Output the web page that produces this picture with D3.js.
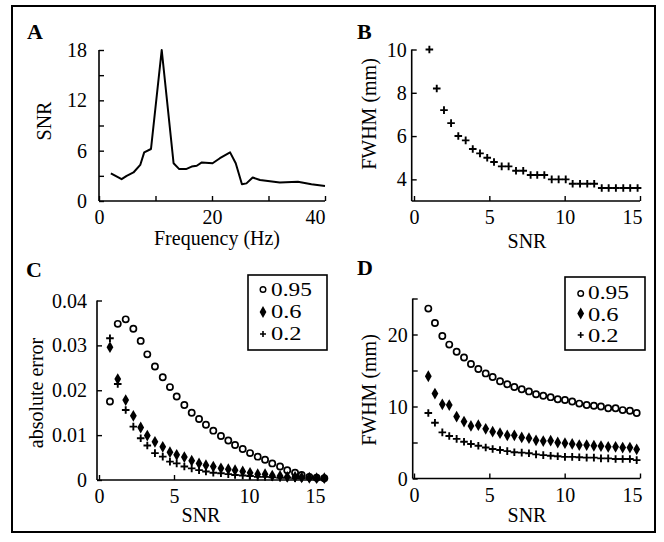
<!DOCTYPE html>
<html>
<head>
<meta charset="utf-8">
<script src="https://cdn.jsdelivr.net/npm/d3@7"></script>
<style>
body { margin: 0; background: #fff; }
text { font-family: "Liberation Serif", "Times New Roman", serif; fill: #000; }
</style>
</head>
<body>
<svg id="fig" width="664" height="542"></svg>
<script>
// A: SNR spectrum
var freqHz  = [2.1, 4.0, 4.9, 6.1, 7.3, 8.0, 9.2, 11.1, 13.2, 14.2, 15.4, 16.4, 17.3, 18.2, 20.1, 21.4, 23.2, 24.2, 25.3, 26.1, 27.2, 28.5, 32.0, 35.2, 37.6, 40.0];
var freqSnr = [3.3, 2.6, 3.0, 3.4, 4.3, 5.8, 6.2, 18.0, 4.5, 3.8, 3.8, 4.1, 4.2, 4.6, 4.5, 5.1, 5.8, 4.5, 2.0, 2.1, 2.8, 2.5, 2.2, 2.3, 2.0, 1.8];

// B: FWHM vs SNR
var snrB  = [1.02, 1.51, 1.99, 2.46, 2.94, 3.43, 3.90, 4.38, 4.86, 5.31, 5.82, 6.28, 6.77, 7.25, 7.74, 8.18, 8.65, 9.14, 9.60, 10.07, 10.53, 11.02, 11.50, 11.96, 12.46, 12.92, 13.40, 13.89, 14.35, 14.84];
var fwhmB = [10.0, 8.2, 7.2, 6.6, 6.0, 5.8, 5.4, 5.2, 5.0, 4.8, 4.6, 4.6, 4.4, 4.4, 4.2, 4.2, 4.2, 4.0, 4.0, 4.0, 3.8, 3.8, 3.8, 3.8, 3.6, 3.6, 3.6, 3.6, 3.6, 3.6];

// C: absolute error vs SNR
var snrC   = [0.73, 1.25, 1.78, 2.29, 2.78, 3.22, 3.73, 4.25, 4.73, 5.18, 5.69, 6.18, 6.67, 7.13, 7.62, 8.13, 8.62, 9.07, 9.58, 10.07, 10.58, 11.07, 11.55, 12.07, 12.55, 13.07, 13.51, 14.02, 14.51, 15.02];
var errC95 = [0.0175, 0.0348, 0.0358, 0.0337, 0.0310, 0.0280, 0.0253, 0.0229, 0.0207, 0.0186, 0.0167, 0.0150, 0.0136, 0.0123, 0.0110, 0.0098, 0.0088, 0.0078, 0.0069, 0.0060, 0.0052, 0.0045, 0.0037, 0.0030, 0.0022, 0.0016, 0.0011, 0.0007, 0.0005, 0.0004];
var errC60 = [0.0296, 0.0225, 0.0178, 0.0143, 0.0117, 0.0099, 0.0085, 0.0074, 0.0062, 0.0056, 0.0051, 0.0043, 0.0037, 0.0033, 0.0030, 0.0026, 0.0024, 0.0022, 0.0019, 0.0016, 0.0013, 0.0013, 0.0010, 0.0009, 0.0007, 0.0007, 0.0006, 0.0005, 0.0004, 0.0004];
var errC20 = [0.0316, 0.0214, 0.0156, 0.0119, 0.0093, 0.0077, 0.0060, 0.0052, 0.0041, 0.0037, 0.0030, 0.0026, 0.0022, 0.0019, 0.0016, 0.0015, 0.0013, 0.0011, 0.0010, 0.0009, 0.0007, 0.0007, 0.0006, 0.0005, 0.0005, 0.0004, 0.0004, 0.0004, 0.0003, 0.0003];

// D: FWHM vs SNR for three correlation levels
var snrD    = [0.95, 1.39, 1.88, 2.34, 2.83, 3.32, 3.78, 4.27, 4.76, 5.22, 5.71, 6.19, 6.66, 7.15, 7.63, 8.10, 8.58, 9.07, 9.54, 10.02, 10.50, 10.97, 11.46, 11.94, 12.41, 12.89, 13.38, 13.85, 14.33, 14.78];
var fwhmD95 = [23.6, 21.6, 19.8, 18.6, 17.6, 16.8, 15.9, 15.2, 14.6, 14.1, 13.5, 13.1, 12.7, 12.4, 12.1, 11.7, 11.5, 11.3, 11.0, 10.9, 10.7, 10.4, 10.2, 10.1, 10.0, 9.75, 9.75, 9.5, 9.4, 9.1];
var fwhmD60 = [14.2, 11.8, 10.3, 10.2, 8.6, 7.9, 7.3, 7.4, 6.9, 6.5, 6.3, 6.0, 6.0, 5.7, 5.6, 5.3, 5.2, 5.25, 5.0, 4.9, 4.8, 4.65, 4.65, 4.55, 4.5, 4.4, 4.4, 4.3, 4.3, 4.05];
var fwhmD20 = [9.1, 7.75, 6.4, 5.9, 5.5, 5.1, 4.8, 4.55, 4.3, 4.1, 3.95, 3.8, 3.65, 3.6, 3.5, 3.35, 3.25, 3.15, 3.1, 3.0, 3.0, 2.95, 2.9, 2.9, 2.8, 2.8, 2.7, 2.7, 2.7, 2.55];

var legendLabels = ["0.95", "0.6", "0.2"];

var svg = d3.select("#fig");

// outer frame
svg.append("rect")
    .attr("x", 12).attr("y", 6).attr("width", 643).attr("height", 526)
    .attr("fill", "none").attr("stroke", "#000").attr("stroke-width", 2);

// draws both axes with inward ticks, serif labels
function drawAxes(x, y, o) {
    var g = svg.append("g");
    var xa = d3.axisBottom(x).tickValues(o.xTicks).tickSizeInner(-5).tickSizeOuter(0).tickPadding(9)
        .tickFormat(function(d) { return o.xLabels.indexOf(d) >= 0 ? d : ""; });
    var gx = g.append("g").attr("transform", "translate(0," + y.range()[0] + ")").call(xa);
    var ya = d3.axisLeft(y).tickValues(o.yTicks).tickSizeInner(-5).tickSizeOuter(0).tickPadding(o.yPad)
        .tickFormat(function(d) { return o.yLabels.indexOf(d) >= 0 ? o.yFmt(d) : ""; });
    var gy = g.append("g").attr("transform", "translate(" + o.yAxisX + ",0)").call(ya);

    g.selectAll(".domain").attr("stroke-width", 1.6).attr("d", null);
    gx.select(".domain").attr("d", "M" + o.yAxisX + ",0H" + x.range()[1]);
    gy.select(".domain").attr("d", "M0," + y.range()[0] + "V" + y.range()[1]);
    g.selectAll(".tick line").attr("stroke-width", 1.4);
    g.selectAll(".tick text").attr("font-family", '"Liberation Serif", serif').attr("font-size", 20);
    gy.selectAll(".tick text").attr("dy", "0.33em");
    // last x label sits left of its tick
    gx.selectAll(".tick text").filter(function(d) { return d === o.xTicks[o.xTicks.length - 1]; })
        .attr("dx", o.lastDx);
    return g;
}

function title(x, y, s, rot) {
    var t = svg.append("text").attr("font-size", 20).attr("text-anchor", "middle").text(s);
    if (rot) t.attr("transform", "translate(" + x + "," + y + ") rotate(-90)");
    else t.attr("x", x).attr("y", y);
    return t;
}

function panelLabel(x, y, s) {
    svg.append("text").attr("x", x).attr("y", y).attr("font-size", 22).attr("font-weight", "bold").text(s);
}

var plusPath = "M-3.8,0H3.8M0,-3.8V3.8";
var diamond = d3.symbol().type(d3.symbolDiamond).size(40);

function marks(xs, ys, x, y, kind) {
    var pts = xs.map(function(d, i) { return [d, ys[i]]; });
    var g = svg.append("g");
    var sel = g.selectAll("path").data(pts).enter();
    if (kind == "circle") {
        sel.append("circle")
            .attr("cx", function(d) { return x(d[0]); })
            .attr("cy", function(d) { return y(d[1]); })
            .attr("r", 3.1).attr("fill", "#fff").attr("stroke", "#000").attr("stroke-width", 1.7);
    } else if (kind == "diamond") {
        sel.append("path").attr("d", diamond).attr("fill", "#000")
            .attr("transform", function(d) { return "translate(" + x(d[0]) + "," + y(d[1]) + ")"; });
    } else {
        sel.append("path").attr("d", plusPath).attr("stroke", "#000").attr("stroke-width", 1.9)
            .attr("transform", function(d) { return "translate(" + x(d[0]) + "," + y(d[1]) + ")"; });
    }
}

function legend(bx, by, bw, bh, sx, rows, tx, bases) {
    svg.append("rect").attr("x", bx).attr("y", by).attr("width", bw).attr("height", bh)
        .attr("fill", "#fff").attr("stroke", "#000").attr("stroke-width", 1.6);
    var kinds = ["circle", "diamond", "plus"];
    kinds.forEach(function(k, i) {
        if (k == "circle") {
            svg.append("circle").attr("cx", sx).attr("cy", rows[i]).attr("r", 2.8)
                .attr("fill", "#fff").attr("stroke", "#000").attr("stroke-width", 1.4);
        } else if (k == "diamond") {
            svg.append("path").attr("d", diamond).attr("transform", "translate(" + sx + "," + rows[i] + ")");
        } else {
            svg.append("path").attr("d", "M-3,0H3M0,-3V3").attr("stroke", "#000").attr("stroke-width", 1.6)
                .attr("transform", "translate(" + sx + "," + rows[i] + ")");
        }
        svg.append("text").attr("x", tx).attr("y", bases[i]).attr("font-size", 18.5)
            .attr("textLength", legendLabels[i].length * 10.2).attr("lengthAdjust", "spacingAndGlyphs")
            .text(legendLabels[i]);
    });
}

// ---------- A ----------
var xA = d3.scaleLinear().domain([0, 40]).range([99, 325]);
var yA = d3.scaleLinear().domain([0, 18]).range([201, 50]);
drawAxes(xA, yA, {
    xTicks: [0, 10, 20, 30, 40], xLabels: [0, 20, 40], lastDx: -10,
    yTicks: [0, 3, 6, 9, 12, 15, 18], yLabels: [0, 6, 12, 18], yFmt: d3.format("d"),
    yPad: 12, yAxisX: 99
});
svg.append("path")
    .datum(freqHz.map(function(d, i) { return [d, freqSnr[i]]; }))
    .attr("fill", "none").attr("stroke", "#000").attr("stroke-width", 2).attr("stroke-linejoin", "round")
    .attr("d", d3.line().x(function(d) { return xA(d[0]); }).y(function(d) { return yA(d[1]); }));
panelLabel(27, 39, "A");
title(217, 245, "Frequency (Hz)");
title(51, 121, "SNR", true);

// ---------- B ----------
var xB = d3.scaleLinear().domain([0, 15]).range([414, 640]);
var yB = d3.scaleLinear().domain([3, 10]).range([201, 49.5]);
drawAxes(xB, yB, {
    xTicks: [0, 5, 10, 15], xLabels: [0, 5, 10, 15], lastDx: -8,
    yTicks: [4, 6, 8, 10], yLabels: [4, 6, 8, 10], yFmt: d3.format("d"),
    yPad: 5, yAxisX: 411.7
});
marks(snrB, fwhmB, xB, yB, "plus");
panelLabel(357, 39, "B");
title(527, 248, "SNR");
title(376, 114, "FWHM (mm)", true);

// ---------- C ----------
var xC = d3.scaleLinear().domain([0, 15]).range([99, 324]);
var yC = d3.scaleLinear().domain([0, 0.04]).range([480, 300.5]);
drawAxes(xC, yC, {
    xTicks: [0, 5, 10, 15], xLabels: [0, 5, 10, 15], lastDx: -9,
    yTicks: [0, 0.01, 0.02, 0.03, 0.04], yLabels: [0, 0.01, 0.02, 0.03, 0.04],
    yFmt: function(d) { return d === 0 ? "0" : d3.format(".2f")(d); },
    yPad: 10, yAxisX: 97
});
marks(snrC, errC95, xC, yC, "circle");
marks(snrC, errC60, xC, yC, "diamond");
marks(snrC, errC20, xC, yC, "plus");
legend(248, 275, 79, 75, 263, [289.5, 312, 334], 271, [296, 318, 340]);
panelLabel(26, 277, "C");
title(201, 522, "SNR");
title(43, 393, "absolute error", true);

// ---------- D ----------
var xD = d3.scaleLinear().domain([0, 15]).range([414, 640]);
var yD = d3.scaleLinear().domain([0, 25]).range([478.5, 298.5]);
drawAxes(xD, yD, {
    xTicks: [0, 5, 10, 15], xLabels: [0, 5, 10, 15], lastDx: -8,
    yTicks: [0, 5, 10, 15, 20, 25], yLabels: [0, 10, 20], yFmt: d3.format("d"),
    yPad: 5, yAxisX: 412.7
});
marks(snrD, fwhmD95, xD, yD, "circle");
marks(snrD, fwhmD60, xD, yD, "diamond");
marks(snrD, fwhmD20, xD, yD, "plus");
legend(565, 277, 80, 73, 580.7, [293.5, 313.5, 335], 588, [299, 320.5, 341.5]);
panelLabel(357, 275, "D");
title(527, 522, "SNR");
title(376, 390, "FWHM (mm)", true);
</script>
</body>
</html>
